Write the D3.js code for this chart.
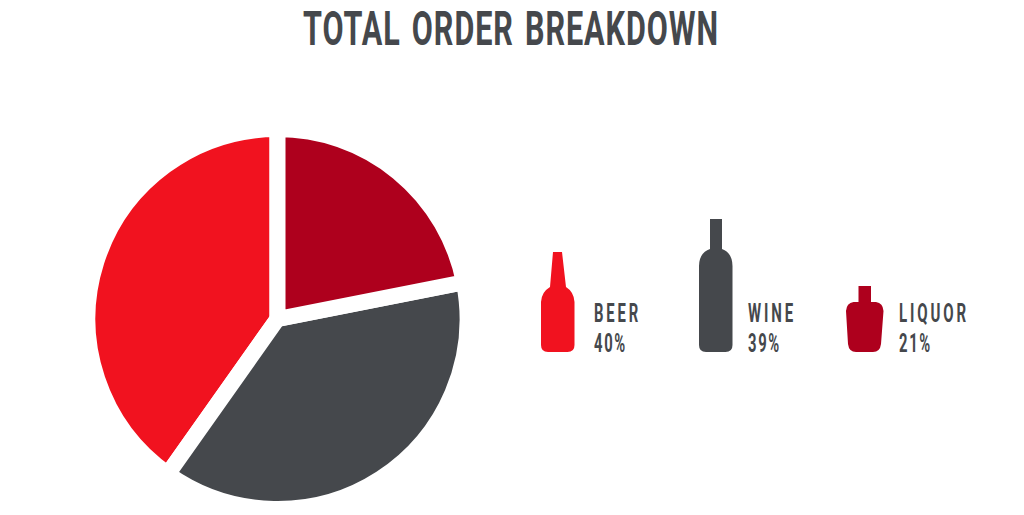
<!DOCTYPE html>
<html>
<head>
<meta charset="utf-8">
<script src="https://cdn.jsdelivr.net/npm/d3@7/dist/d3.min.js"></script>
<style>
html, body { margin: 0; padding: 0; background: #fff; overflow: hidden; }
text { font-family: "Liberation Sans Narrow", "Roboto", sans-serif; fill: #45484c; }
</style>
</head>
<body>
<div id="main"></div>
<script>
var categories = ['BEER', 'WINE', 'LIQUOR'];
var percentLabels = ['40%', '39%', '21%'];
// wedge sizes, they differ a little from the printed labels
var wedgeShares = [40.2, 37.9, 21.9];
var colors = ['#f1121f', '#45484c', '#ae001d'];

var width = 1024, height = 515;
var svg = d3.select('#main').append('svg')
    .attr('width', width)
    .attr('height', height)
    .style('display', 'block');

svg.append('text')
    .attr('x', 303)
    .attr('y', 45)
    .attr('font-size', '48px')
    .attr('font-weight', 'bold')
    .attr('letter-spacing', '1.5px')
    .attr('word-spacing', '4px')
    .attr('textLength', 416)
    .attr('lengthAdjust', 'spacingAndGlyphs')
    .text('TOTAL ORDER BREAKDOWN');

// pie runs counter clockwise from 12 o'clock, beer first
var pie = d3.pie()
    .sort(null)
    .startAngle(2 * Math.PI)
    .endAngle(0)
    .value(function (d) { return d; });

var gap = 16;
var radius = 182;
// thick white stroke makes the parallel gaps, so outer radius grows by half of it
var arc = d3.arc().innerRadius(0).outerRadius(radius + gap / 2);

var g = svg.append('g')
    .attr('transform', 'translate(277.5,319)');

g.selectAll('path')
    .data(pie(wedgeShares))
    .enter()
    .append('path')
    .attr('d', arc)
    .attr('fill', function (d, i) { return colors[i]; })
    .attr('stroke', '#fff')
    .attr('stroke-width', gap)
    .attr('stroke-linejoin', 'miter');

// bottle shapes, bottom of each sits on y=0
function beerBottle() {
    var p = d3.path();
    p.moveTo(12, -100);
    p.lineTo(21, -100);
    p.lineTo(25, -65);
    p.quadraticCurveTo(33, -60, 33.5, -50);
    p.lineTo(33.5, -7);
    p.quadraticCurveTo(33.5, 0, 26.5, 0);
    p.lineTo(7, 0);
    p.quadraticCurveTo(0, 0, 0, -7);
    p.lineTo(0, -50);
    p.quadraticCurveTo(0.5, -60, 9, -65);
    p.closePath();
    return p.toString();
}

function wineBottle() {
    var p = d3.path();
    p.moveTo(11, -133);
    p.lineTo(23, -133);
    p.lineTo(23, -103);
    p.quadraticCurveTo(33.5, -99, 33.5, -86);
    p.lineTo(33.5, -7);
    p.quadraticCurveTo(33.5, 0, 26.5, 0);
    p.lineTo(7, 0);
    p.quadraticCurveTo(0, 0, 0, -7);
    p.lineTo(0, -86);
    p.quadraticCurveTo(0, -99, 11, -103);
    p.closePath();
    return p.toString();
}

function liquorBottle() {
    var p = d3.path();
    p.moveTo(12.5, -66);
    p.lineTo(25, -66);
    p.lineTo(25, -50);
    p.lineTo(30, -50);
    p.quadraticCurveTo(37, -49, 37.5, -41);
    p.lineTo(35, -8);
    p.quadraticCurveTo(34, 0, 27, 0);
    p.lineTo(10, 0);
    p.quadraticCurveTo(3, 0, 2, -8);
    p.lineTo(0, -41);
    p.quadraticCurveTo(0.5, -49, 7.5, -50);
    p.lineTo(12.5, -50);
    p.closePath();
    return p.toString();
}

var bottles = [beerBottle(), wineBottle(), liquorBottle()];
var bottleX = [541, 699, 846];
var labelX = [594, 748, 899];
var nameWidth = [47, 48, 70];
var pctWidth = [33, 33, 33];

var legend = svg.selectAll('.legend')
    .data(categories)
    .enter()
    .append('g')
    .attr('class', 'legend');

legend.append('path')
    .attr('transform', function (d, i) { return 'translate(' + bottleX[i] + ',352)'; })
    .attr('d', function (d, i) { return bottles[i]; })
    .attr('fill', function (d, i) { return colors[i]; });

legend.append('text')
    .attr('x', function (d, i) { return labelX[i]; })
    .attr('y', 322)
    .attr('font-size', '26px')
    .attr('font-weight', 'bold')
    .attr('letter-spacing', '5px')
    .attr('textLength', function (d, i) { return nameWidth[i]; })
    .attr('lengthAdjust', 'spacingAndGlyphs')
    .text(function (d) { return d; });

legend.append('text')
    .attr('x', function (d, i) { return labelX[i]; })
    .attr('y', 352)
    .attr('font-size', '26px')
    .attr('font-weight', 'bold')
    .attr('letter-spacing', '3px')
    .attr('textLength', function (d, i) { return pctWidth[i]; })
    .attr('lengthAdjust', 'spacingAndGlyphs')
    .text(function (d, i) { return percentLabels[i]; });
</script>
</body>
</html>
